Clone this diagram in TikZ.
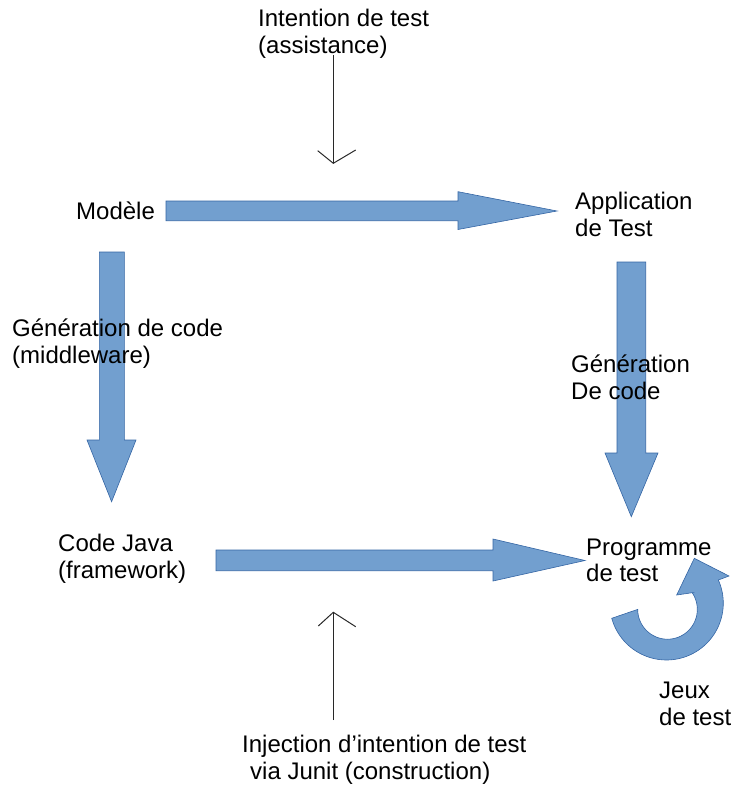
\documentclass[tikz,border=0pt]{standalone}
\usepackage{fontspec}
\setmainfont{Liberation Sans}
\definecolor{arrfill}{RGB}{114,159,207}
\definecolor{arredge}{RGB}{52,101,164}
\definecolor{thinline}{RGB}{40,40,40}
\begin{document}
\begin{tikzpicture}[x=1pt,y=-1pt,
  blockarrow/.style={fill=arrfill, draw=arredge, line width=0.6pt, line join=miter},
  lbl/.style={anchor=base west, inner sep=0pt, font=\fontsize{24}{27}\selectfont},
  thinarrow/.style={draw=thinline, line width=1pt}]
\useasboundingbox (0,0) rectangle (738,790);

% block arrows
\draw[blockarrow] (166,201) -- (458,201) -- (458,191.7) -- (557,211) -- (458,229.5) -- (458,220.7) -- (166,220.7) -- cycle;
\draw[blockarrow] (99.3,252) -- (124.3,252) -- (124.3,440) -- (136,440) -- (111.6,501.7) -- (87,440) -- (99.3,440) -- cycle;
\draw[blockarrow] (617,262) -- (645.7,262) -- (645.7,453) -- (658,453) -- (631.3,516.7) -- (605,453) -- (617,453) -- cycle;
\draw[blockarrow] (216,550) -- (493,550) -- (493,539) -- (585,560.5) -- (493,581) -- (493,570.7) -- (216,570.7) -- cycle;

% circular arrow
\draw[blockarrow]
  plot[domain=195.4:384.1, samples=60] ({666.5+56.8*cos(\x)}, {603.2-56.8*sin(\x)})
  -- (729,576) -- (694.3,558.3) -- (676.7,595) -- (692.3,592.7)
  -- plot[domain=34:-180, samples=60] ({667.5+29.8*cos(\x)}, {609.4-29.8*sin(\x)})
  -- cycle;

% thin arrows
\coordinate (t0) at (333.3,55);
\coordinate (t1) at (333.3,163.3);
\coordinate (t1l) at (317.7,150.7);
\coordinate (t1r) at (355.7,150);
\draw[thinarrow] (t0) -- (t1);
\draw[thinarrow] (t1l) -- (t1) -- (t1r);

\coordinate (b0) at (333.3,720);
\coordinate (b1) at (333.3,612.3);
\coordinate (b1l) at (318.3,626);
\coordinate (b1r) at (355.7,626.7);
\draw[thinarrow] (b0) -- (b1);
\draw[thinarrow] (b1l) -- (b1) -- (b1r);

% labels
\node[lbl] (int1) at (258,26) {Intention de test};
\node[lbl] (int2) at (258,53) {(assistance)};
\node[lbl] (mod) at (76,219) {Modèle};
\node[lbl] (app1) at (575,209) {Application};
\node[lbl] (app2) at (575,236) {de Test};
\node[lbl] (gen1) at (12,336) {Génération de code};
\node[lbl] (gen2) at (12,363) {(middleware)};
\node[lbl] (genr1) at (571,372) {Génération};
\node[lbl] (genr2) at (571,399) {De code};
\node[lbl] (java1) at (58,551) {Code Java};
\node[lbl] (java2) at (58,578) {(framework)};
\node[lbl] (prog1) at (586,555) {Programme};
\node[lbl] (prog2) at (586,581) {de test};
\node[lbl] (jeux1) at (659,698) {Jeux};
\node[lbl] (jeux2) at (659,725) {de test};
\node[lbl] (inj1) at (242,752) {Injection d’intention de test};
\node[lbl] (inj2) at (250,779) {via Junit (construction)};
\end{tikzpicture}
\end{document}
